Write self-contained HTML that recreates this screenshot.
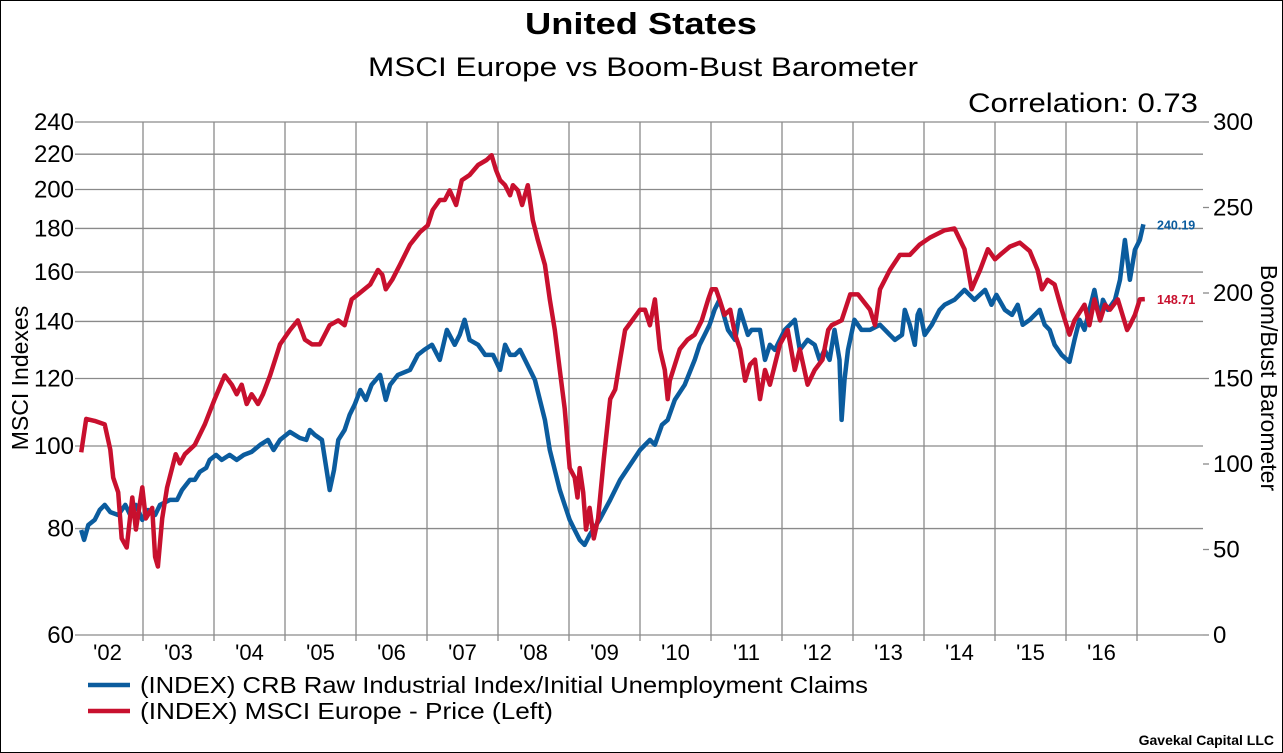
<!DOCTYPE html>
<html><head><meta charset="utf-8"><style>
html,body{margin:0;padding:0;background:#fff}
svg{display:block;font-family:"Liberation Sans",Arial,sans-serif}
</style></head><body>
<svg id="chart" width="1283" height="753" viewBox="0 0 1283 753">
<rect x="0.5" y="0.5" width="1282" height="752" fill="#fff" stroke="#000"/>
<text x="525" y="34" textLength="232" lengthAdjust="spacingAndGlyphs" font-size="31" font-weight="bold">United States</text>
<text x="368" y="76" textLength="550" lengthAdjust="spacingAndGlyphs" font-size="27">MSCI Europe vs Boom-Bust Barometer</text>
<text x="968" y="112" textLength="230" lengthAdjust="spacingAndGlyphs" font-size="27">Correlation: 0.73</text>
<g id="grid"></g>
<g id="series"></g>
<g id="axes"></g>
<text transform="translate(28,378) rotate(-90)" text-anchor="middle" font-size="23">MSCI Indexes</text>
<text transform="translate(1261,378) rotate(90)" text-anchor="middle" font-size="23">Boom/Bust Barometer</text>
<g>
<line x1="88" y1="685" x2="130" y2="685" stroke="#0b5c9e" stroke-width="4.5"/>
<text x="140" y="693" textLength="728" lengthAdjust="spacingAndGlyphs" font-size="23">(INDEX) CRB Raw Industrial Index/Initial Unemployment Claims</text>
<line x1="88" y1="711" x2="130" y2="711" stroke="#c8102e" stroke-width="4.5"/>
<text x="140" y="719" textLength="413" lengthAdjust="spacingAndGlyphs" font-size="23">(INDEX) MSCI Europe - Price  (Left)</text>
</g>
<text x="1274" y="745" text-anchor="end" font-size="14" font-weight="bold">Gavekal Capital LLC</text>
</svg>
<script>
const leftTicks=[60,80,100,120,140,160,180,200,220,240];
const rightTicks=[0,50,100,150,200,250,300];
const yearTicks=[2003,2004,2005,2006,2007,2008,2009,2010,2011,2012,2013,2014,2015,2016,2017];
const yearLabels=["'02","'03","'04","'05","'06","'07","'08","'09","'10","'11","'12","'13","'14","'15","'16"];
const msciDates=[2002.13,2002.20,2002.32,2002.46,2002.54,2002.58,2002.65,2002.70,2002.77,2002.85,2002.90,2002.99,2003.04,2003.13,2003.17,2003.21,2003.27,2003.34,2003.41,2003.46,2003.52,2003.59,2003.73,2003.87,2004.01,2004.15,2004.25,2004.32,2004.39,2004.46,2004.53,2004.62,2004.69,2004.79,2004.93,2005.07,2005.18,2005.28,2005.38,2005.49,2005.63,2005.75,2005.84,2005.94,2006.03,2006.20,2006.31,2006.37,2006.42,2006.51,2006.62,2006.76,2006.90,2007.01,2007.08,2007.18,2007.25,2007.32,2007.41,2007.49,2007.60,2007.72,2007.84,2007.91,2007.97,2008.03,2008.10,2008.17,2008.21,2008.28,2008.34,2008.42,2008.49,2008.56,2008.66,2008.73,2008.80,2008.87,2008.94,2009.01,2009.08,2009.12,2009.15,2009.20,2009.24,2009.29,2009.35,2009.41,2009.49,2009.58,2009.65,2009.72,2009.79,2009.89,2010.00,2010.07,2010.14,2010.21,2010.28,2010.35,2010.39,2010.42,2010.56,2010.67,2010.77,2010.87,2010.96,2011.01,2011.07,2011.12,2011.19,2011.27,2011.34,2011.41,2011.48,2011.55,2011.62,2011.69,2011.76,2011.83,2011.97,2012.08,2012.18,2012.25,2012.36,2012.46,2012.57,2012.65,2012.70,2012.84,2012.96,2013.07,2013.24,2013.31,2013.38,2013.52,2013.66,2013.80,2013.94,2014.08,2014.29,2014.43,2014.57,2014.67,2014.79,2014.90,2015.00,2015.07,2015.21,2015.35,2015.49,2015.60,2015.66,2015.74,2015.84,2015.94,2016.05,2016.12,2016.26,2016.33,2016.40,2016.48,2016.55,2016.62,2016.73,2016.86,2016.90,2016.97,2017.04,2017.11];
const msciValues=[98.3,107.6,107,106,99,91.8,88.2,77.9,76,87,79.8,89.4,82.2,84.6,74.1,72.2,82.2,89.4,94.2,97.8,95.4,97.8,100.3,106,113.5,121,118,115,118,112,115,112,115,121,131.6,136.8,140.4,133.3,131.6,131.6,138.6,140.4,138.6,148.6,150.6,154.7,160.9,158.8,152.7,156.7,163.2,172.3,178.2,181.5,189.2,194.4,194.4,199.5,191.8,205.1,208,213.7,216.6,219.4,210.9,205.1,202.3,196.9,202.3,199.5,191.8,202.3,184.1,174.5,163.2,148.6,136.8,122.8,110.6,94.2,91.8,87,94.2,88.2,79.8,84.6,77.9,82.2,96.6,113.5,116.5,126.3,136.8,140.4,144.5,144.5,138.6,148.6,129.9,122.8,113.5,119.3,129.9,133.3,135.1,140.4,148.6,152.7,152.7,148.6,142.5,144.5,135.1,129.9,119.3,124.6,126.3,113.5,122.8,118,131.6,136.8,122.8,129.9,118,122.8,126.3,136.8,138.6,140.4,150.6,150.6,144.5,138.6,152.7,160.9,167.6,167.6,172.3,175.5,179.1,180,170.2,152.7,160.9,170.2,165.6,167.6,171.4,173.2,169.3,160.9,152.7,156.7,154.7,144.5,135.1,140.4,146.5,138.6,148.6,140.4,146.5,144.5,148.6,136.8,138.6,142.5,148.6,148.71];
const bbDates=[2002.13,2002.17,2002.23,2002.32,2002.39,2002.46,2002.54,2002.65,2002.75,2002.82,2002.90,2002.99,2003.07,2003.17,2003.24,2003.38,2003.48,2003.55,2003.66,2003.73,2003.80,2003.89,2003.94,2004.03,2004.11,2004.22,2004.32,2004.42,2004.53,2004.65,2004.76,2004.84,2004.93,2005.07,2005.21,2005.30,2005.35,2005.42,2005.52,2005.63,2005.69,2005.75,2005.84,2005.91,2005.98,2006.06,2006.14,2006.22,2006.34,2006.42,2006.48,2006.59,2006.76,2006.87,2006.96,2007.07,2007.18,2007.28,2007.39,2007.46,2007.53,2007.60,2007.72,2007.82,2007.93,2008.03,2008.10,2008.17,2008.24,2008.31,2008.38,2008.52,2008.59,2008.66,2008.73,2008.80,2008.87,2008.94,2009.01,2009.08,2009.15,2009.22,2009.29,2009.43,2009.58,2009.72,2009.86,2010.00,2010.14,2010.21,2010.31,2010.39,2010.49,2010.63,2010.77,2010.84,2010.91,2010.98,2011.05,2011.12,2011.24,2011.34,2011.41,2011.52,2011.57,2011.69,2011.76,2011.83,2011.90,2012.04,2012.18,2012.25,2012.36,2012.46,2012.53,2012.60,2012.67,2012.74,2012.81,2012.84,2012.88,2012.93,2013.02,2013.12,2013.24,2013.38,2013.52,2013.59,2013.69,2013.73,2013.80,2013.87,2013.91,2013.94,2014.01,2014.11,2014.22,2014.29,2014.43,2014.57,2014.71,2014.86,2014.95,2015.02,2015.14,2015.24,2015.32,2015.39,2015.49,2015.63,2015.70,2015.77,2015.84,2015.94,2016.05,2016.12,2016.19,2016.26,2016.33,2016.40,2016.48,2016.52,2016.59,2016.69,2016.76,2016.83,2016.90,2016.97,2017.04,2017.09];
const bbValues=[61.4,55.6,64.3,67.3,73.1,76.1,71.9,70.2,76.1,70.2,76.1,67.3,73.1,70.2,76.1,79,79,84.8,90.7,90.7,95.4,97.7,102.4,105.3,102.4,105.3,102.4,105.3,107.1,111.2,114.1,108.2,114.1,118.8,115.2,114.1,119.9,117,114.1,84.8,96.5,114.1,119.9,128.7,134.6,143.3,137.5,146.3,152.1,137.5,146.3,152.1,155,163.8,166.7,169.7,160.9,178.4,169.7,175.5,184.3,172.6,169.7,163.8,163.8,155,169.7,163.8,163.8,166.7,160.9,149.2,137.5,125.8,108.2,96.5,84.8,76.1,67.3,61.4,55.6,52.7,58.5,67.3,79,90.7,99.5,108.2,114.1,111.2,122.9,125.8,137.5,146.3,160.9,169.7,175.5,181.4,190.1,196,178.4,172.6,190.1,175.5,178.4,178.4,160.9,169.7,166.7,178.4,184.3,166.7,172.6,169.7,160.9,166.7,160.9,178.4,160.9,125.8,149.2,166.7,184.3,178.4,178.4,181.4,175.5,172.6,175.5,190.1,181.4,169.7,187.2,190.1,175.5,181.4,190.1,193.1,196,201.8,196,201.8,193.1,198.9,190.1,187.2,193.1,181.4,184.3,190.1,181.4,178.4,169.7,163.8,159.7,172.6,184.3,178.4,190.1,201.8,184.3,196,190.1,196,207.7,231,207.7,225.2,231,240.19];

const NS='http://www.w3.org/2000/svg';
const PL=81,PR=1203,PT=122,PB=635;
function xScale(t){return 143+(t-2003)*71;}
function yLeft(v){return PB-(PB-PT)*Math.log(v/60)/Math.log(240/60);}
function yRight(v){return PB-(PB-PT)*v/300;}
function mk(tag,attrs,parent){const e=document.createElementNS(NS,tag);for(const k in attrs)e.setAttribute(k,attrs[k]);parent.appendChild(e);return e;}
const grid=document.getElementById('grid'),axes=document.getElementById('axes'),series=document.getElementById('series');

leftTicks.forEach(v=>{
  const y=yLeft(v);
  const l=mk('line',{x1:PL-6,x2:PR,y1:y,y2:y,stroke:'#8a8a8a','stroke-width':1.3},grid);
  
  
  const t=mk('text',{x:PL-7,y:y+8,'text-anchor':'end','font-size':24},axes);
  t.textContent=v;
  
  
});
rightTicks.forEach(v=>{
  const y=yRight(v);
  const l=mk('line',{x1:PR,x2:PR+6,y1:y,y2:y,stroke:'#8a8a8a','stroke-width':1.3},grid);
  
  
  const t=mk('text',{x:PR+10,y:y+8,'text-anchor':'start','font-size':24},axes);
  t.textContent=v;
  
  
});
yearTicks.forEach(yr=>{
  const x=xScale(yr);
  const l=mk('line',{x1:x,x2:x,y1:PT,y2:PB+6,stroke:'#8a8a8a','stroke-width':1.3},grid);
  
  
});
yearLabels.forEach((lab,i)=>{
  const x=xScale(2002.5+i);
  const t=mk('text',{x:x,y:660,'text-anchor':'middle','font-size':22},axes);
  t.textContent=lab;
  
  
});

function path(dates,vals,ys){
  const n=Math.min(dates.length,vals.length);let d='';
  for(let i=0;i<n;i++)d+=(i?'L':'M')+xScale(dates[i]).toFixed(1)+','+ys(vals[i]).toFixed(1);
  return d;
}
const pb=mk('path',{d:path(bbDates,bbValues,yRight),fill:'none',stroke:'#0b5c9e','stroke-width':4.5,'stroke-linejoin':'round'},series);


const pm=mk('path',{d:path(msciDates,msciValues,yLeft),fill:'none',stroke:'#c8102e','stroke-width':4.5,'stroke-linejoin':'round'},series);



const lb=bbValues[bbValues.length-1],lm=msciValues[msciValues.length-1];
const tb=mk('text',{x:1157,y:yRight(lb)+5,'font-size':12.5,'font-weight':'bold',fill:'#0b5c9e'},axes);
tb.textContent=lb.toFixed(2);


const tm=mk('text',{x:1157,y:yLeft(lm)+5,'font-size':12.5,'font-weight':'bold',fill:'#c8102e'},axes);
tm.textContent=lm.toFixed(2);


</script>
</body></html>
